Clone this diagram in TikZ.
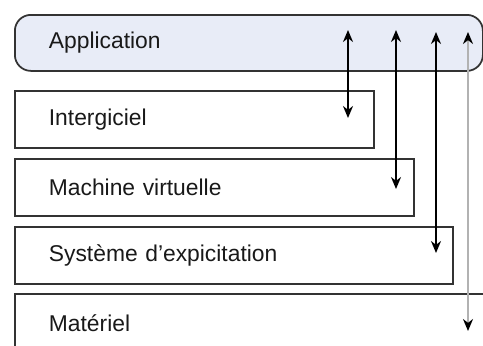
\documentclass[tikz,border=0pt]{standalone}
\usepackage{fontspec}
\setmainfont{Liberation Sans}
\usetikzlibrary{arrows.meta}
\definecolor{appfill}{RGB}{232,236,247}
\begin{document}
\begin{tikzpicture}[x=0.02cm,y=-0.02cm]
\def\u{0.02cm}
\def\l{2.4mm}
\def\w{2mm}
\useasboundingbox (0,0) rectangle (483,345);
\clip (0,0) rectangle (483,345);
\tikzset{layer/.style={draw=black!80, line width=1pt, rectangle, anchor=north west,
  minimum height=57*\u, inner xsep=34*\u, align=left, text=black!90,
  font=\fontsize{13}{15}\selectfont}}
\node [layer, fill=appfill, rounded corners=0.32cm, text width=400*\u, minimum width=467*\u, minimum height=56*\u, name=app] at (14,14) {Application};
\node [layer, text width=291*\u, name=inter] at (14,90) {Intergiciel};
\node [layer, text width=331*\u, name=vm] at (14,158) {Machine virtuelle};
\node [layer, text width=370*\u, name=os] at (14,226) {Système d'expicitation};
\node [layer, text width=418*\u, minimum height=58*\u, name=hw] at (14,293) {Matériel};
% arrow ends
\coordinate (t1) at (348,30);
\coordinate (b1) at (348,118);
\coordinate (t2) at (396,30);
\coordinate (b2) at (396,189);
\coordinate (t3) at (436,32);
\coordinate (b3) at (436,253);
\coordinate (t4) at (468,32);
\coordinate (b4) at (468,331);
\draw [line width=1.2pt, {Stealth[length=\l, width=\w]}-{Stealth[length=\l, width=\w]}](t1) -- (b1);
\draw [line width=1.2pt, {Stealth[length=\l, width=\w]}-{Stealth[length=\l, width=\w]}](t2) -- (b2);
\draw [line width=1.2pt, {Stealth[length=\l, width=\w]}-{Stealth[length=\l, width=\w]}](t3) -- (b3);
\draw [line width=1.2pt, gray!60, {Stealth[length=\l, width=\w, black]}-{Stealth[length=\l, width=\w, black]}](t4) -- (b4);
\end{tikzpicture}
\end{document}
